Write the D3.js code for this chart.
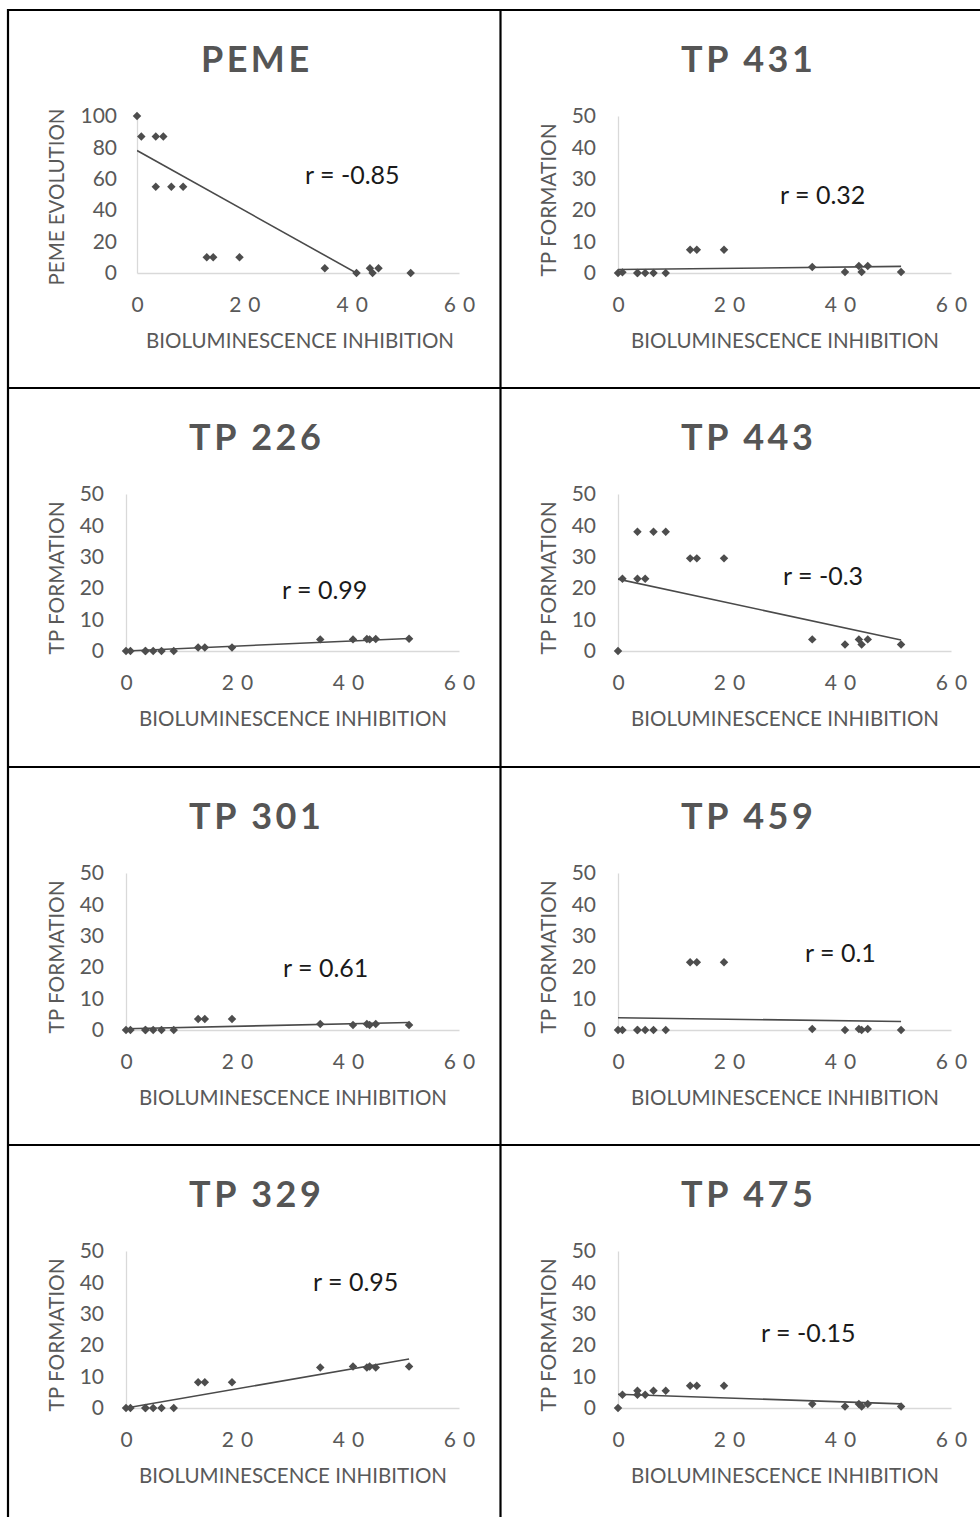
<!DOCTYPE html>
<html>
<head>
<meta charset="utf-8">
<script src="https://cdn.jsdelivr.net/npm/d3@7/dist/d3.min.js"></script>
<style>
  html, body { margin: 0; padding: 0; background: #fff; }
  svg { display: block; }
  text { font-family: Lato, "Open Sans", sans-serif; }
</style>
</head>
<body>
<svg id="chart" width="980" height="1517"></svg>
<script>
// ---------- DATA ----------
const bioInhibition = [0, 0.8, 3.5, 3.5, 4.9, 6.4, 8.6, 13.0, 14.2, 19.1, 35.0, 40.9, 43.4, 43.9, 45.0, 51.0];

const panelTitles = ["PEME", "TP 431", "TP 226", "TP 443", "TP 301", "TP 459", "TP 329", "TP 475"];
const yAxisTitles = ["PEME EVOLUTION", "TP FORMATION", "TP FORMATION", "TP FORMATION",
                     "TP FORMATION", "TP FORMATION", "TP FORMATION", "TP FORMATION"];
const xAxisTitle = "BIOLUMINESCENCE INHIBITION";
const rLabels = ["r = -0.85", "r = 0.32", "r = 0.99", "r = -0.3", "r = 0.61", "r = 0.1", "r = 0.95", "r = -0.15"];

const xTicks = [0, 20, 40, 60];
const yTicksPeme = [0, 20, 40, 60, 80, 100];
const yTicksTp = [0, 10, 20, 30, 40, 50];

const pemeEvolution = [100, 87, 87, 55, 87, 55, 55, 10, 10, 10, 3, 0, 3, 0, 3, 0];
const tp431 = [0, 0.2, 0, 0, 0, 0, 0, 7.4, 7.4, 7.4, 1.9, 0.3, 2.2, 0.3, 2.2, 0.3];
const tp226 = [0, 0, 0, 0, 0, 0, 0, 1.1, 1.1, 1.1, 3.7, 3.7, 3.8, 3.7, 3.8, 3.9];
const tp443 = [0, 23, 38, 23, 23, 38, 38, 29.5, 29.5, 29.5, 3.7, 2.1, 3.7, 2.1, 3.7, 2.1];
const tp301 = [0, 0, 0, 0, 0, 0, 0, 3.5, 3.5, 3.5, 1.9, 1.6, 1.9, 1.6, 1.9, 1.6];
const tp459 = [0, 0, 0, 0, 0, 0, 0, 21.6, 21.6, 21.6, 0.3, 0, 0.3, 0, 0.3, 0];
const tp329 = [0, 0, 0, 0, 0, 0, 0, 8.2, 8.2, 8.2, 12.9, 13.2, 12.9, 13.2, 12.9, 13.2];
const tp475 = [0, 4.2, 5.5, 4.2, 4.2, 5.5, 5.5, 7.1, 7.1, 7.1, 1.3, 0.5, 1.3, 0.5, 1.3, 0.5];

const seriesList = [pemeEvolution, tp431, tp226, tp443, tp301, tp459, tp329, tp475];

// trend line values at x = 0 and x = 51
const trendAtStart = [78, 1.1, 0, 22.9, 0.4, 3.9, 0, 4.4];
const trendAtEnd   = [-19.3, 2.1, 4.0, 3.5, 2.4, 2.7, 15.6, 1.3];

// r label positions (relative to panel, in px)
const rLabelPos = [[296, 174], [279, 194], [273, 211], [282, 197], [274, 210], [304, 195], [304, 146], [260, 197]];

// ---------- LAYOUT ----------
const svg = d3.select("#chart");
const colLefts = [9, 501];
const rowTops = [10, 388, 767, 1145];
const grey = "#595959";

let clipN = 0;

seriesList.forEach((vals, i) => {
  const col = i % 2, row = Math.floor(i / 2);
  const L = colLefts[col], T = rowTops[row];
  const isPeme = i === 0;
  const yTicks = isPeme ? yTicksPeme : yTicksTp;
  const yMax = isPeme ? 100 : 50;

  const x = d3.scaleLinear().domain([0, 60]).range([L + (isPeme ? 128 : 117), L + 450]);
  const y = d3.scaleLinear().domain([0, yMax]).range([T + 263, T + 106]);

  const g = svg.append("g");

  // Title
  g.append("text")
    .attr("x", L + 246 + 1.75)
    .attr("y", T + 62)
    .attr("text-anchor", "middle")
    .attr("font-size", 36)
    .attr("font-weight", 700)
    .attr("letter-spacing", 3.5)
    .attr("fill", "#555")
    .text(panelTitles[i]);

  // axes (light grey lines)
  const yAxis = d3.axisLeft(y).tickValues(yTicks).tickSize(0).tickPadding(isPeme ? 20 : 22);
  const ya = g.append("g").attr("transform", `translate(${x(0)},0)`).call(yAxis);
  ya.select(".domain").attr("stroke", "#d9d9d9").attr("stroke-width", 1.3);
  ya.selectAll("text").attr("font-size", 21).attr("fill", grey)
    .attr("font-family", "Lato, sans-serif");

  const xAxis = d3.axisBottom(x).tickValues(xTicks).tickSize(0).tickPadding(0);
  const xa = g.append("g").attr("transform", `translate(0,${y(0)})`).call(xAxis);
  xa.select(".domain").attr("stroke", "#d9d9d9").attr("stroke-width", 1.3);
  xa.selectAll("text")
    .attr("font-size", 21).attr("fill", grey)
    .attr("font-family", "Lato, sans-serif")
    .attr("letter-spacing", 7)
    .attr("dy", null)
    .attr("y", 39)
    .attr("dx", 3.5);

  // clip for trend line
  const cid = "clip" + (clipN++);
  svg.append("clipPath").attr("id", cid).append("rect")
    .attr("x", x(0)).attr("y", y(yMax)).attr("width", x(60) - x(0)).attr("height", y(0) - y(yMax) + 1);

  // trend line
  g.append("line")
    .attr("clip-path", `url(#${cid})`)
    .attr("x1", x(0)).attr("y1", y(trendAtStart[i]))
    .attr("x2", x(51)).attr("y2", y(trendAtEnd[i]))
    .attr("stroke", "#4a4a4a").attr("stroke-width", 1.6);

  // markers (diamonds)
  const sym = d3.symbol().type(d3.symbolSquare).size(36);
  g.append("g").selectAll("path")
    .data(vals.map((v, k) => [bioInhibition[k], v]))
    .join("path")
    .attr("d", sym)
    .attr("transform", d => `translate(${x(d[0])},${y(d[1])}) rotate(45)`)
    .attr("fill", "#4d4d4d");

  // r label
  g.append("text")
    .attr("x", L + rLabelPos[i][0])
    .attr("y", T + rLabelPos[i][1])
    .attr("font-size", 25)
    .attr("fill", "#1a1a1a")
    .text(rLabels[i]);

  // x axis title
  g.append("text")
    .attr("x", L + (isPeme ? 291 : 284))
    .attr("y", T + 338)
    .attr("text-anchor", "middle")
    .attr("font-size", 21)
    .attr("fill", grey)
    .attr("textLength", 308)
    .attr("lengthAdjust", "spacingAndGlyphs")
    .text(xAxisTitle);

  // y axis title
  const yLen = isPeme ? 177 : 153;
  g.append("text")
    .attr("transform", `translate(${L + 55},${T + (isPeme ? 187 : 190)}) rotate(-90)`)
    .attr("text-anchor", "middle")
    .attr("font-size", 21)
    .attr("fill", grey)
    .attr("textLength", yLen)
    .attr("lengthAdjust", "spacingAndGlyphs")
    .text(yAxisTitles[i]);
});

// ---------- PANEL BORDERS ----------
const borders = svg.append("g").attr("stroke", "#000").attr("stroke-width", 2.2);
[8, 500.5].forEach(xv => borders.append("line").attr("x1", xv).attr("x2", xv).attr("y1", 9).attr("y2", 1517));
rowTops.forEach(yv => borders.append("line").attr("x1", 7).attr("x2", 980).attr("y1", yv).attr("y2", yv));
</script>
</body>
</html>
